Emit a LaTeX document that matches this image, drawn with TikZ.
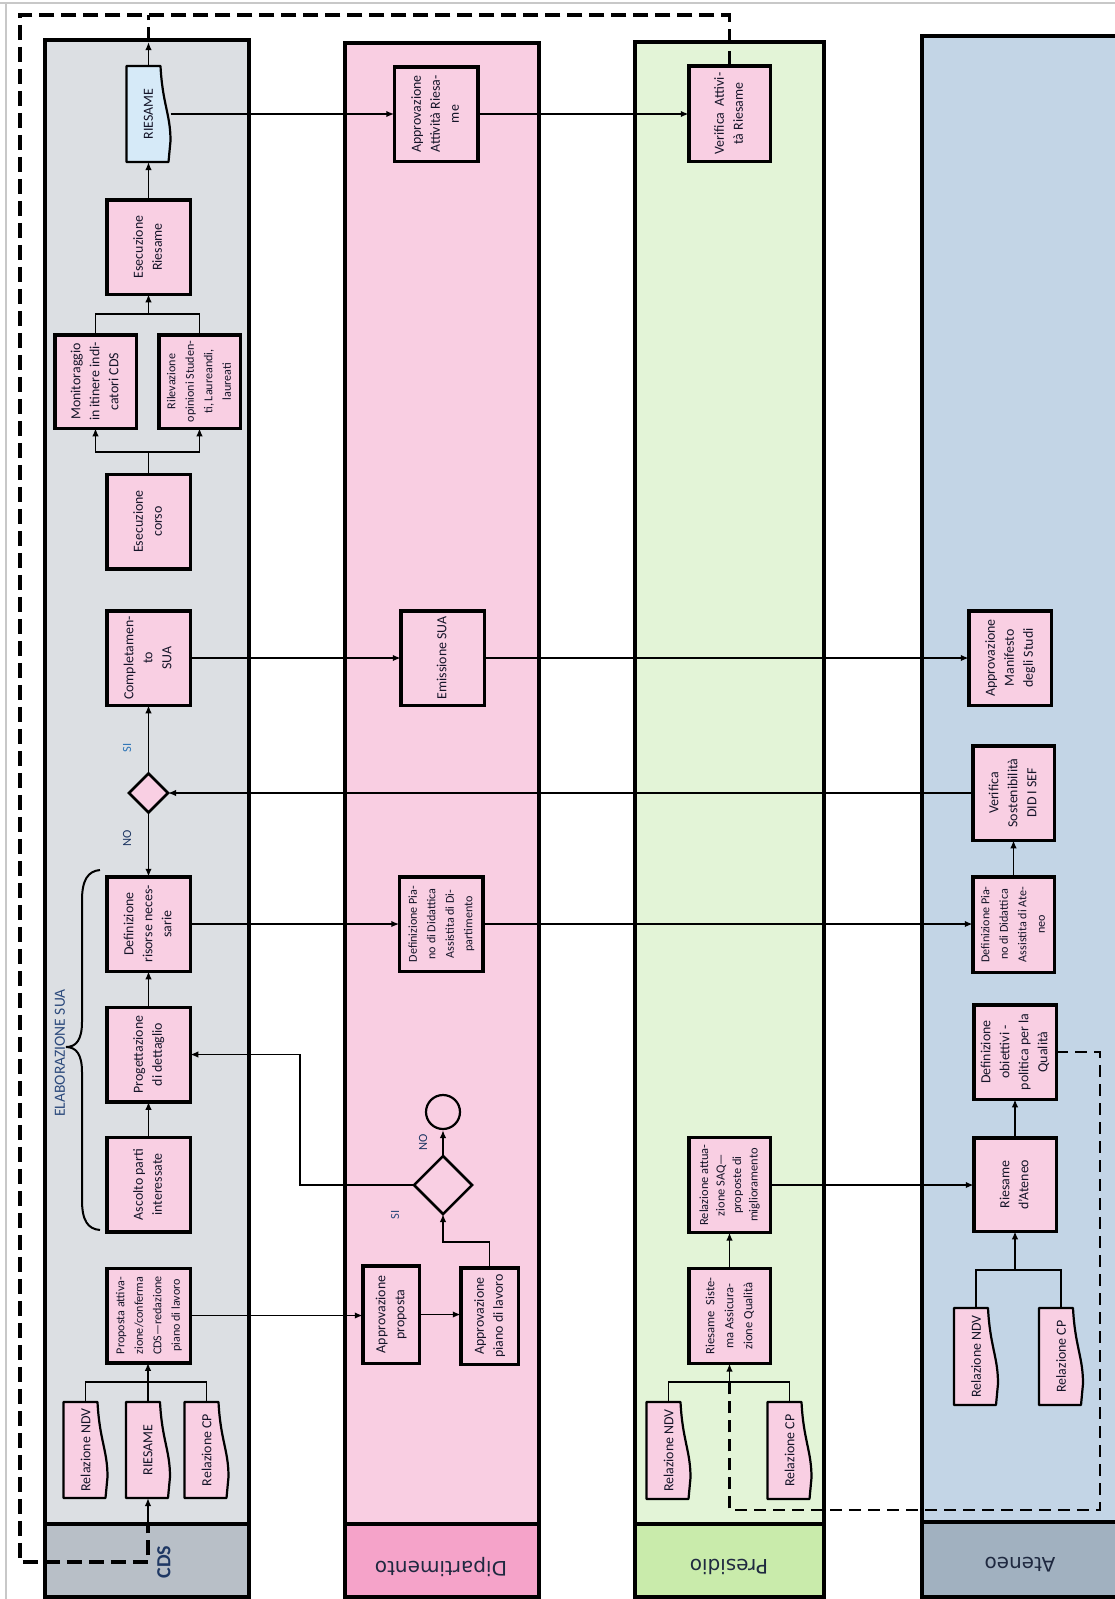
\documentclass[tikz,border=0pt]{standalone}
\usepackage{fontspec}
\setmainfont{Carlito}
\newfontfamily\dejavu{DejaVu Sans}
\usepackage{graphicx}
\usetikzlibrary{arrows.meta,shapes.geometric,calc}
\definecolor{cdsbody}{HTML}{DCDFE3}
\definecolor{cdshead}{HTML}{B8BFC7}
\definecolor{dipbody}{HTML}{F9CEE2}
\definecolor{diphead}{HTML}{F5A3C9}
\definecolor{presbody}{HTML}{E3F4D7}
\definecolor{preshead}{HTML}{C9EBAB}
\definecolor{atbody}{HTML}{C3D5E6}
\definecolor{athead}{HTML}{A1B1C0}
\definecolor{boxpink}{HTML}{F9CFE3}
\definecolor{docblue}{HTML}{D6EAF8}
\definecolor{txt}{HTML}{141428}
\definecolor{navy}{HTML}{1F3864}
\definecolor{elabc}{HTML}{2C4A7C}
\definecolor{sic}{HTML}{2E75B6}
\definecolor{framegray}{HTML}{C8C8C8}
\definecolor{headtxt}{HTML}{1F2940}
\pgfdeclarelayer{lanes}
\pgfdeclarelayer{docs}
\pgfsetlayers{lanes,docs,main}
\newcommand\mainsz{\fontsize{13.9}{19}\selectfont}
\newcommand\smallsz{\fontsize{12.1}{18.5}\selectfont}
\newcommand\vt[1]{\rotatebox{90}{\begin{tabular}{@{}c@{}}#1\end{tabular}}}
\newcommand\docframe[2]{\begin{pgfonlayer}{docs}\path[fill=#2,draw=black,line width=2.2pt,line join=round]
 (#1.north west) -- ($(#1.north east)+(-10,0)$)
 .. controls ($(#1.north east)!0.4!(#1.south east)+(-8,0)$) and ($(#1.north east)!0.5!(#1.south east)$) .. ($(#1.north east)!0.78!(#1.south east)$)
 -- ($(#1.south east)+(-2,0)$) -- (#1.south west) -- cycle;\end{pgfonlayer}}
\begin{document}
\begin{tikzpicture}[x=1pt,y=-1pt,
  box/.style={draw=black,line width=3.5pt,fill=boxpink,inner sep=0pt,outer sep=0pt,text=txt,font=\mainsz,minimum width=83.5pt,minimum height=94.5pt},
  docnode/.style={inner sep=0pt,outer sep=0pt,text=txt,font=\mainsz,minimum width=44pt,minimum height=96pt},
  conn/.style={line width=1.8pt},
  arr/.style={line width=1.8pt,-{Latex[length=8pt,width=6.5pt]}},
  bigdash/.style={line width=3.6pt,dash pattern=on 15pt off 7pt},
  meddash/.style={line width=2.6pt,dash pattern=on 12pt off 7pt},
  lane/.style={line width=3.5pt},
  decision/.style={diamond,draw=black,line width=2.5pt,fill=boxpink,inner sep=0pt,outer sep=0pt,aspect=1},
  headlbl/.style={font=\dejavu\fontsize{20}{24}\selectfont,text=headtxt,rotate=180}
]
\clip (0,0) rectangle (1115,1599);
\begin{pgfonlayer}{lanes}
\fill[white] (0,0) rectangle (1115,1599);
\draw[framegray,line width=1.5pt] (0,3) -- (1115,3);
\draw[framegray,line width=1.5pt] (6,3) -- (6,1599);
% CDS lane
\fill[cdsbody] (45,40) rectangle (249,1524);
\fill[cdshead] (45,1524) rectangle (249,1597);
\draw[lane] (45,40) rectangle (249,1597) (45,1524) -- (249,1524);
% Dipartimento lane
\fill[dipbody] (345,43) rectangle (539,1524);
\fill[diphead] (345,1524) rectangle (539,1597);
\draw[lane] (345,43) rectangle (539,1597) (345,1524) -- (539,1524);
% Presidio lane
\fill[presbody] (635,42) rectangle (824,1524);
\fill[preshead] (635,1524) rectangle (824,1597);
\draw[lane] (635,42) rectangle (824,1597) (635,1524) -- (824,1524);
% Ateneo lane
\fill[atbody] (922,36) rectangle (1135,1522);
\fill[athead] (922,1522) rectangle (1135,1597);
\draw[lane] (922,36) rectangle (1135,1597) (922,1522) -- (1135,1522);
\end{pgfonlayer}

% lane headers
\node[font=\bfseries\fontsize{20}{24}\selectfont,text=navy] (hcds) at (164,1562) {\rotatebox{90}{CDS}};
\node[headlbl] (hdip) at (441,1567) {Dipartimento};
\node[headlbl] (hpres) at (729,1567) {Presidio};
\node[headlbl] (hat) at (1020,1565) {Ateneo};

% ---------- CDS ----------
\node[docnode] (cdsriesame) at (148.5,114) {\rotatebox{90}{RIESAME}};
\docframe{cdsriesame}{docblue}
\node[box] (esecriesame) at (148.5,247) {\vt{Esecuzione\\Riesame}};
\node[box,minimum width=81.5pt,minimum height=93.5pt] (monit) at (95.5,381.5) {\vt{Monitoraggio\\in itinere indi-\\catori CDS}};
\node[box,minimum width=81.5pt,minimum height=93.5pt,font=\smallsz] (rilev) at (199.5,381.5) {\vt{Rilevazione\\opinioni Studen-\\ti, Laureandi,\\laureati}};
\node[box] (eseccorso) at (148.5,521.5) {\vt{Esecuzione\\corso}};
\node[box] (complet) at (148.5,658) {\vt{Completamen-\\to\\SUA}};
\node[decision,minimum width=39pt,minimum height=39pt] (dcds) at (148.5,793) {};
\node[box] (defris) at (148.5,924) {\vt{Definizione\\risorse neces-\\sarie}};
\node[box] (proget) at (148.5,1054.5) {\vt{Progettazione\\di dettaglio}};
\node[box] (ascolto) at (148.5,1184.5) {\vt{Ascolto parti\\interessate}};
\node[box,font=\smallsz] (proposta) at (148.5,1315.5) {\vt{Proposta attiva-\\zione/conferma\\CDS—redazione\\piano di lavoro}};
\node[docnode] (cdsndv) at (85.5,1450) {\rotatebox{90}{Relazione NDV}};
\docframe{cdsndv}{boxpink}
\node[docnode] (cdsries2) at (148,1450) {\rotatebox{90}{RIESAME}};
\docframe{cdsries2}{boxpink}
\node[docnode] (cdscp) at (206.5,1450) {\rotatebox{90}{Relazione CP}};
\docframe{cdscp}{boxpink}

\node[font=\fontsize{12.5}{15}\selectfont,text=sic] (lsi1) at (127,748) {\rotatebox{90}{SI}};
\node[font=\fontsize{12.5}{15}\selectfont,text=navy] (lno1) at (127,838) {\rotatebox{90}{NO}};
\node[font=\fontsize{15.5}{18}\selectfont,text=elabc] (elab) at (60,1053) {\rotatebox{90}{ELABORAZIONE SUA}};
\draw[line width=2pt] (100,870) .. controls (88,871) and (82,880) .. (82,900) -- (82,1022)
  .. controls (82,1040) and (76,1047) .. (66,1047) .. controls (76,1047) and (82,1054) .. (82,1072)
  -- (82,1200) .. controls (82,1221) and (88,1229) .. (100,1230);

% ---------- Dipartimento ----------
\node[box] (apprries) at (436,114) {\vt{Approvazione\\Attività Riesa-\\me}};
\node[box] (emissione) at (442.5,658) {\vt{Emissione SUA}};
\node[box,font=\smallsz] (defpianodip) at (441,924) {\vt{Definizione Pia-\\no di Didattica\\Assistita di Di-\\partimento}};
\node[circle,draw=black,line width=2.2pt,minimum size=34pt,inner sep=0pt] (circ) at (443,1112) {};
\node[decision,minimum width=58pt,minimum height=58pt] (ddip) at (443,1185) {};
\node[box,minimum width=56.5pt,minimum height=97.5pt] (apprprop) at (391,1314.5) {\vt{Approvazione\\proposta}};
\node[box,minimum width=57.5pt,minimum height=96.5pt] (apprpiano) at (489.5,1316) {\vt{Approvazione\\piano di lavoro}};
\node[font=\fontsize{12.5}{15}\selectfont,text=navy] (lno2) at (423,1142) {\rotatebox{90}{NO}};
\node[font=\fontsize{12.5}{15}\selectfont,text=elabc] (lsi2) at (395,1215) {\rotatebox{90}{SI}};

% ---------- Presidio ----------
\node[box,minimum width=81.5pt,minimum height=95.5pt] (verifatt) at (729.5,113.5) {\vt{Verifica\ \ Attivi-\\tà Riesame}};
\node[box,minimum width=81.5pt,minimum height=95pt,font=\fontsize{12.4}{16.5}\selectfont] (relatt) at (729.5,1185) {\vt{Relazione attua-\\zione SAQ—\\proposte di\\miglioramento}};
\node[box,minimum width=81.5pt,minimum height=95pt,font=\fontsize{12.6}{19}\selectfont] (riesist) at (729.5,1316) {\vt{Riesame\ \ Siste-\\ma Assicura-\\zione Qualità}};
\node[docnode,minimum height=97pt] (presndv) at (668.5,1450.5) {\rotatebox{90}{Relazione NDV}};
\docframe{presndv}{boxpink}
\node[docnode,minimum height=97pt] (prescp) at (789.5,1450.5) {\rotatebox{90}{Relazione CP}};
\docframe{prescp}{boxpink}

% ---------- Ateneo ----------
\node[box,minimum width=82.5pt] (manifesto) at (1010,658) {\vt{Approvazione\\Manifesto\\degli Studi}};
\node[box,minimum width=81.5pt] (verifsost) at (1013.5,793) {\vt{Verifica\\Sostenibilità\\DID I SEF}};
\node[box,minimum width=81.5pt,minimum height=95.5pt,font=\smallsz] (defpianoat) at (1013.5,924.5) {\vt{Definizione Pia-\\no di Didattica\\Assistita di Ate-\\neo}};
\node[box,minimum width=82.5pt] (defobj) at (1015,1052) {\vt{Definizione\\obiettivi -\\politica per la\\Qualità}};
\node[box,minimum width=82.5pt,minimum height=93.5pt] (riesat) at (1015,1184.5) {\vt{Riesame\\d'Ateneo}};
\node[docnode,minimum height=97pt] (atndv) at (976,1356.5) {\rotatebox{90}{Relazione NDV}};
\docframe{atndv}{boxpink}
\node[docnode,minimum height=97pt] (atcp) at (1061,1356.5) {\rotatebox{90}{Relazione CP}};
\docframe{atcp}{boxpink}

% ---------- coordinates ----------
\coordinate (mj) at (148.5,314);
\coordinate (cj) at (148.5,452);
\coordinate (cdsj) at (148,1382);
\coordinate (pj) at (489.5,1242);
\coordinate (lp) at (300,1185);
\coordinate (presj) at (729.5,1382);
\coordinate (atj) at (1015,1270);
\coordinate (dtr) at (729.5,15);
\coordinate (dtl) at (20,15);
\coordinate (dbl) at (20,1562);
\coordinate (dcb) at (148,1562);
\coordinate (dcbe) at (148,1524);
\coordinate (dct) at (148.5,15);
\coordinate (dcte) at (148.5,42);
\coordinate (ad1) at (1100,1052);
\coordinate (ad2) at (1100,1510);
\coordinate (ad3) at (729.5,1510);

% ---------- connectors ----------
\draw[arr] (esecriesame.north) -- (cdsriesame.south);
\draw[conn] (monit.north) |- (mj) -| (rilev.north);
\draw[arr] (mj) -- (esecriesame.south);
\draw[conn] (eseccorso.north) -- (cj);
\draw[arr] (cj) -| (monit.south);
\draw[arr] (cj) -| (rilev.south);
\draw[arr] (dcds.north) -- (complet.south);
\draw[arr] (dcds.south) -- (defris.north);
\draw[arr] (verifsost.west) -- (dcds.east);
\draw[arr] (complet.east) -- (emissione.west);
\draw[arr] (emissione.east) -- (manifesto.west);
\draw[arr] (defris.east) -- (defpianodip.west);
\draw[arr] (defpianodip.east) -- (defpianodip.east -| defpianoat.west);
\draw[arr] (defpianoat.north) -- (verifsost.south);
\draw[arr] (ascolto.north) -- (proget.south);
\draw[arr] (proget.north) -- (defris.south);
\draw[arr] (proposta.east) -- (proposta.east -| apprprop.west);
\draw[arr] (apprprop.east) -- (apprprop.east -| apprpiano.west);
\draw[arr] (apprpiano.north) -- (pj) -| (ddip.south);
\draw[arr] (ddip.north) -- (circ.south);
\draw[arr] (ddip.west) -- (lp) |- (proget.east);
\draw[conn] (cdsndv.north) |- (cdsj) -| (cdscp.north);
\draw[arr] (cdsries2.north) -- (cdsries2.north |- proposta.south);
\draw[arr] (cdsriesame.east) -- (cdsriesame.east -| apprries.west);
\draw[arr] (apprries.east) -- (apprries.east -| verifatt.west);
\draw[conn] (presndv.north) |- (presj) -| (prescp.north);
\draw[arr] (presj) -- (riesist.south);
\draw[arr] (riesist.north) -- (relatt.south);
\draw[arr] (relatt.east) -- (relatt.east -| riesat.west);
\draw[conn] (atndv.north) |- (atj) -| (atcp.north);
\draw[arr] (atj) -- (riesat.south);
\draw[arr] (riesat.north) -- (defobj.south);

% dashed feedback loops
\draw[bigdash] (verifatt.north) -- (dtr) -- (dtl) -- (dbl) -- (dcb) -- (dcbe);
\draw[arr] (dcbe) -- (cdsries2.south);
\draw[arr] (cdsriesame.north) -- (dcte);
\draw[bigdash] (dcte) -- (dct);
\draw[meddash] (defobj.east) -- (ad1) -- (ad2) -- (ad3) -- (presj);
\end{tikzpicture}
\end{document}
